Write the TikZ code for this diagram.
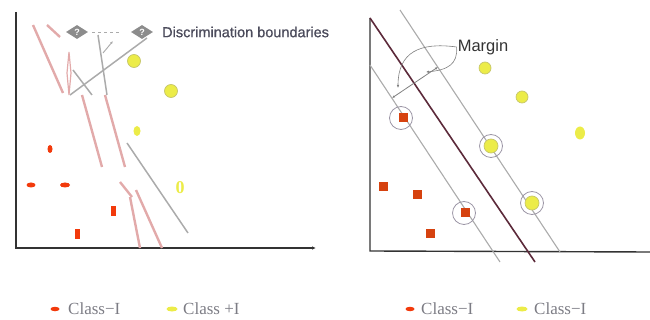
\documentclass[tikz,border=0pt]{standalone}
\usepackage{fontspec}
\setmainfont{Liberation Serif}
\newfontfamily\labelfont{Liberation Sans}
\newfontfamily\titlefont[FakeBold=0.9]{Liberation Sans}
\usepackage{tikz}
\usetikzlibrary{arrows.meta,positioning,shapes.geometric}
\definecolor{axisgrey}{HTML}{333333}
\definecolor{boundpink}{HTML}{E2AAAA}
\definecolor{boundgrey}{HTML}{ABABAB}
\definecolor{classred}{HTML}{F23A0C}
\definecolor{squarered}{HTML}{D6420F}
\definecolor{classyellow}{HTML}{ECEC48}
\definecolor{yellowrim}{HTML}{C6C66A}
\definecolor{hyperdark}{HTML}{5C2A3A}
\definecolor{ringgrey}{HTML}{9C96A6}
\definecolor{legendgrey}{HTML}{7C7C84}
\definecolor{titlegrey}{HTML}{4C4C5C}
\definecolor{diagrey}{HTML}{8C8C8C}
\tikzset{
  axis/.style={draw=axisgrey, line width=1.4pt},
  pinkline/.style={draw=boundpink, line width=2.4pt},
  greyline/.style={draw=boundgrey, line width=1.5pt},
  marginline/.style={draw=boundgrey, line width=1.1pt},
  redspot/.style={ellipse, fill=classred, inner sep=0pt},
  redbar/.style={rectangle, fill=classred, minimum width=5pt, minimum height=10pt, inner sep=0pt},
  redsquare/.style={rectangle, fill=squarered, minimum size=9pt, inner sep=0pt},
  yellowdot/.style={circle, fill=classyellow, draw=yellowrim, line width=0.7pt, minimum size=13pt, inner sep=0pt},
  svring/.style={circle, draw=ringgrey, line width=0.8pt, minimum size=23pt, inner sep=0pt},
  qmark/.style={diamond, aspect=1.6, fill=diagrey, text=white, inner sep=0pt,
    minimum width=22pt, minimum height=14pt, font=\labelfont\bfseries\fontsize{9}{9}\selectfont},
  legendtext/.style={text=legendgrey, font=\fontsize{17}{18}\selectfont, anchor=west, inner sep=0pt},
  callout/.style={draw=gray, line width=0.6pt, -{Latex[length=3pt,width=2.5pt]}},
}
\begin{document}
\begin{tikzpicture}[x=1pt, y=-1pt]
  \useasboundingbox (0,0) rectangle (650,320);

  % left panel: several candidate boundaries
  \coordinate (ltop) at (16,12);
  \coordinate (lorig) at (16,248);
  \coordinate (lend) at (316,248);
  \draw[axis, -{Latex[length=4pt,width=3.5pt]}] (ltop) -- (lorig) -- (lend);

  \draw[pinkline] (33,25) -- (63,93);
  \draw[pinkline] (47,25) -- (60,37);
  \draw[draw=boundpink, line width=1.2pt] (69,52) -- (71,73) -- (69,95) -- (67,73) -- cycle;
  \draw[pinkline] (82,95) -- (102,167);
  \draw[pinkline] (105,95) -- (125,167);
  \draw[pinkline] (120,182) -- (132,197);
  \draw[pinkline] (130,197) -- (140,248);
  \draw[pinkline] (136,190) -- (162,248);
  \draw[greyline] (70,95) -- (147,38);
  \draw[greyline] (73,70) -- (92,95);
  \draw[greyline] (98,35) -- (107,95);
  \draw[greyline] (127,143) -- (188,233);

  \node[qmark] (q1) at (77,32) {?};
  \node[qmark] (q2) at (142,32) {?};
  \draw[boundgrey, line width=0.9pt, dashed, shorten <=4pt, shorten >=10pt] (q1) -- (q2);
  \coordinate (tick1) at (103,53);
  \coordinate (tick2) at (113,41);
  \draw[boundgrey, line width=0.9pt, -{Latex[length=3pt,width=2.5pt]}] (tick1) -- (tick2);
  \node[font=\titlefont\fontsize{14.5}{15}\selectfont, text=titlegrey, anchor=west, inner sep=0pt] (bound) at (162,32) {Discrimination boundaries};

  \node[yellowdot] (y1) at (134,61) {};
  \node[yellowdot] (y2) at (171,91) {};
  \node[ellipse, fill=classyellow, minimum width=7pt, minimum height=10pt, inner sep=0pt] (y3) at (137,131) {};
  \node[text=classyellow, font=\bfseries\fontsize{18}{18}\selectfont, inner sep=0pt] (y4) at (180,188) {0};
  \node[redspot, minimum width=5pt, minimum height=8pt] (r1) at (50,149) {};
  \node[redspot, minimum width=9pt, minimum height=5pt] (r2) at (31,185) {};
  \node[redspot, minimum width=10pt, minimum height=5pt] (r3) at (65,185) {};
  \node[redbar] (r4) at (113,211) {};
  \node[redbar] (r5) at (77,234) {};

  % right panel: maximum margin
  \coordinate (rtop) at (370,18);
  \coordinate (rorig) at (370,251);
  \coordinate (rend) at (650,252);
  \draw[axis] (rtop) -- (rorig) -- (rend);

  \coordinate (up1) at (400,10);
  \coordinate (up2) at (560,252);
  \coordinate (lo1) at (370,65);
  \coordinate (lo2) at (500,262);
  \coordinate (hp2) at (535,262);
  \draw[marginline] (up1) -- (up2);
  \draw[marginline] (lo1) -- (lo2);
  \draw[draw=hyperdark, line width=1.6pt] (rtop) -- (hp2);

  \coordinate (m1) at (392,98);
  \coordinate (m2) at (438,67);
  \draw[gray, line width=0.8pt, {Latex[length=3pt,width=2.5pt]}-{Latex[length=3pt,width=2.5pt]}] (m1) -- (m2);
  \node[font=\labelfont\fontsize{16.5}{17}\selectfont, text=axisgrey, inner sep=1pt] (margin) at (483,47) {Margin};
  \draw[callout] (margin.west) .. controls (420,42) and (398,52) .. (398,88);
  \draw[callout] (margin.west) .. controls (458,64) and (448,70) .. (426,72);

  \node[yellowdot, minimum size=12pt] (w1) at (485,68) {};
  \node[yellowdot, minimum size=12pt] (w2) at (522,97) {};
  \node[ellipse, fill=classyellow, minimum width=10pt, minimum height=13pt, inner sep=0pt] (w3) at (580,133) {};
  \node[yellowdot, minimum size=14pt] (w4) at (491,146) {};
  \node[yellowdot, minimum size=14pt] (w5) at (532,203) {};
  \node[svring] (sv1) at (w4) {};
  \node[svring] (sv2) at (w5) {};

  \node[redsquare] (s1) at (403,118) {};
  \node[redsquare] (s2) at (383,187) {};
  \node[redsquare] (s3) at (417,195) {};
  \node[redsquare] (s4) at (465,213) {};
  \node[redsquare] (s5) at (430,234) {};
  \node[svring] (sv3) at (401,118) {};
  \node[svring] (sv4) at (464,213) {};

  % legends
  \node[redspot, minimum width=9pt, minimum height=4.5pt] (kr1) at (55,309) {};
  \node[legendtext] (lr1) at (68,309) {Class−I};
  \node[ellipse, fill=classyellow, minimum width=11pt, minimum height=5pt, inner sep=0pt] (ky1) at (172,309) {};
  \node[legendtext] (ly1) at (183,309) {Class +I};
  \node[redspot, minimum width=9pt, minimum height=4.5pt] (kr2) at (410,309) {};
  \node[legendtext] (lr2) at (421,309) {Class−I};
  \node[ellipse, fill=classyellow, minimum width=11pt, minimum height=5pt, inner sep=0pt] (ky2) at (522,309) {};
  \node[legendtext] (ly2) at (534,309) {Class−I};
\end{tikzpicture}
\end{document}
